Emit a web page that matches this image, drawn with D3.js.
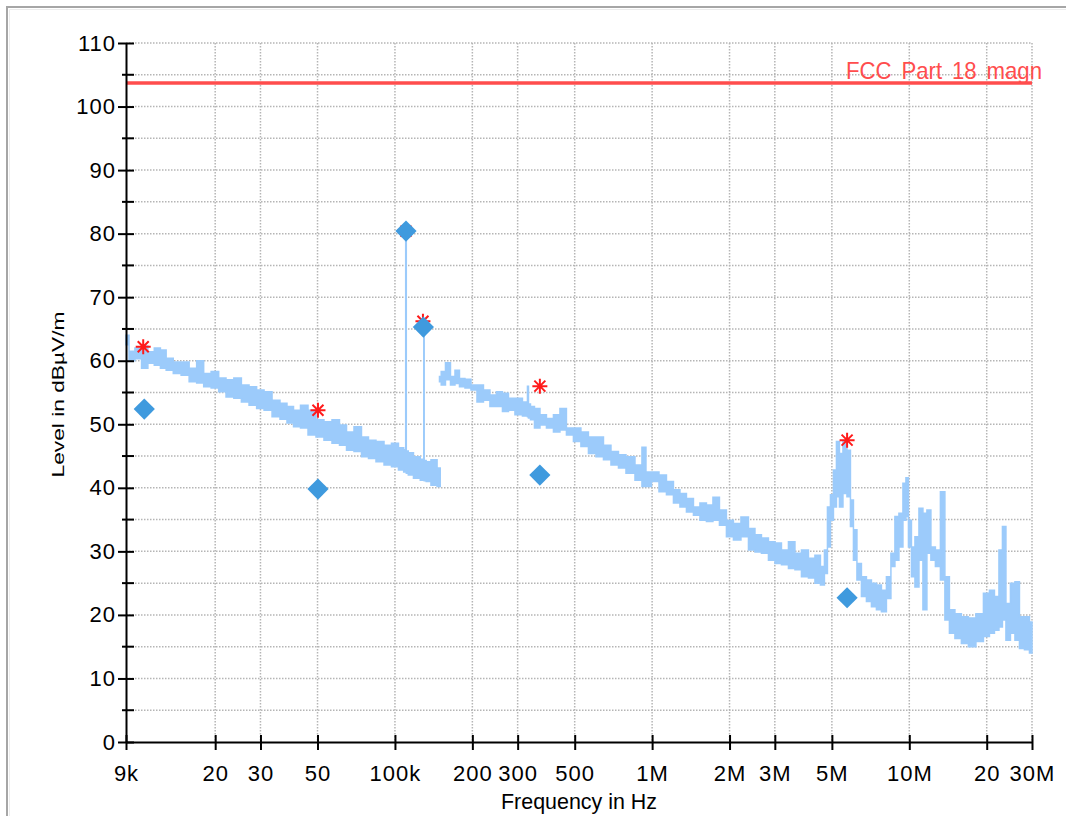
<!DOCTYPE html>
<html>
<head>
<meta charset="utf-8">
<title>EMI scan</title>
<script src="https://d3js.org/d3.v7.min.js"></script>
<style>
  body { margin: 0; background: #fff; }
</style>
</head>
<body>
<div id="chart"></div>
<script>
// axis ticks
var xTicks = [9e3, 20e3, 30e3, 50e3, 100e3, 200e3, 300e3, 500e3, 1e6, 2e6, 3e6, 5e6, 10e6, 20e6, 30e6];
var xTickLabels = ["9k", "20", "30", "50", "100k", "200", "300", "500", "1M", "2M", "3M", "5M", "10M", "20", "30M"];
var yTicks = [0, 10, 20, 30, 40, 50, 60, 70, 80, 90, 100, 110];

// limit line
var limitName = "FCC Part 18 magn";
var limitLevel = 103.7;

// scan trace, 9 kHz - 150 kHz (frequency in Hz, max / min of the band in dBuV/m)
var trace1Freq = [9000, 9500, 10000, 10700, 11200, 12000, 12500, 13300, 14200, 15300, 16400, 17500, 18600, 20000,
  21300, 22800, 24500, 26100, 28100, 29900, 32100, 34500, 37000, 39100, 41600, 44300, 47600, 51100, 54900, 59000,
  62800, 66900, 71800, 76500, 81400, 87500, 94000, 100000, 106500, 109800, 110400, 111000, 114400, 121800, 129200,
  129700, 130200, 134400, 141800, 150000];
var trace1Hi = [64.0, 61.5, 62.0, 62.3, 61.4, 62.0, 61.7, 60.4, 59.8, 59.8, 58.8, 60.0, 58.0, 58.3,
  57.3, 57.0, 57.3, 56.2, 55.9, 55.4, 55.1, 53.8, 53.3, 52.8, 52.2, 53.0, 52.2, 50.7, 50.4, 50.7,
  49.9, 48.8, 49.6, 48.0, 47.5, 47.3, 46.7, 47.0, 46.3, 46.0, 80.4, 45.8, 45.5, 44.9, 44.5,
  65.3, 44.3, 44.1, 44.4, 43.1];
var trace1Lo = [62.5, 60.0, 60.3, 58.8, 59.6, 59.3, 58.8, 58.5, 58.0, 57.7, 56.7, 56.5, 55.9, 55.7,
  55.1, 54.3, 54.1, 53.5, 53.0, 52.5, 52.2, 51.2, 50.8, 50.2, 49.6, 49.4, 48.3, 48.0, 47.5, 47.0,
  46.7, 45.9, 45.7, 44.9, 44.6, 44.1, 43.6, 43.3, 42.8, 42.5, 42.5, 42.3, 42.0, 41.5, 41.2,
  41.2, 41.1, 41.0, 40.4, 40.2];

// scan trace, 150 kHz - 30 MHz
var trace2Freq = [149000, 153700, 160800, 168100, 174300, 182200, 192300, 202900, 214100, 227900, 240400, 256000,
  267800, 285100, 300800, 326000, 329100, 332000, 341000, 356700, 376300, 400600, 426500, 450000, 479100, 510000,
  547900, 583500, 627000, 667400, 717100, 763400, 820200, 896800, 929500, 963400, 1026000, 1102000, 1173000,
  1249000, 1318000, 1403000, 1494000, 1576000, 1678000, 1771000, 1885000, 2007000, 2137000, 2296000, 2445000,
  2579000, 2746000, 2924000, 3085000, 3285000, 3497000, 3690000, 3929000, 4183000, 4413000, 4615000, 4741000,
  4870000, 5003000, 5139000, 5279000, 5423000, 5621000, 5825000, 5984000, 6147000, 6370000, 6662000, 6967000,
  7286000, 7619000, 7968000, 8332000, 8636000, 8951000, 9279000, 9617000, 9790000, 10060000, 10330000, 10710000,
  11100000, 11500000, 11920000, 12350000, 12920000, 13510000, 14000000, 14650000, 15450000, 16450000, 17520000,
  18820000, 20040000, 20960000, 21920000, 22720000, 23330000, 24190000, 25290000, 26220000, 27420000, 28670000,
  30000000];
var trace2Hi = [57.5, 58.3, 59.7, 57.5, 58.5, 57.2, 57.1, 56.2, 56.2, 55.4, 54.6, 55.1,
  54.9, 54.1, 54.1, 53.5, 56.0, 53.2, 52.8, 52.5, 51.5, 50.9, 51.5, 52.5, 49.4, 49.4,
  48.8, 48.0, 48.0, 46.7, 45.7, 45.2, 44.9, 43.6, 46.4, 42.5, 42.5, 42.0, 41.0,
  39.7, 39.1, 38.3, 37.0, 37.6, 37.3, 38.5, 36.5, 34.9, 34.4, 35.4, 33.6,
  32.6, 32.1, 31.5, 31.3, 30.2, 31.5, 29.7, 30.2, 28.9, 29.4, 27.6, 30.2,
  37.0, 38.9, 42.8, 47.3, 45.4, 47.4, 45.9, 38.1, 33.4, 28.1, 26.0, 25.5,
  25.0, 24.7, 23.9, 26.0, 29.7, 35.5, 36.0, 40.7, 41.6, 34.9, 30.7, 32.3,
  36.8, 36.0, 36.5, 30.7, 30.2, 39.4, 26.0, 20.8, 20.2, 19.7, 19.5,
  20.2, 23.4, 23.9, 22.9, 30.2, 33.9, 21.8, 25.0, 25.2, 19.7, 19.7,
  18.9];
var trace2Lo = [56.7, 56.2, 57.0, 56.2, 56.4, 55.9, 55.7, 55.4, 53.5, 53.8, 52.8, 52.8,
  52.0, 52.2, 51.5, 51.3, 51.2, 51.0, 50.7, 49.4, 49.9, 49.4, 48.8, 49.1, 48.3, 47.3,
  46.5, 45.4, 44.9, 44.4, 43.6, 43.1, 42.3, 41.2, 40.2, 40.2, 41.0, 39.4, 38.9,
  37.6, 37.0, 36.2, 35.7, 34.9, 34.7, 34.9, 34.1, 32.3, 31.8, 32.3, 30.2,
  29.9, 29.7, 28.6, 28.1, 27.9, 27.3, 27.1, 26.0, 25.8, 25.0, 24.7, 26.5,
  30.7, 34.9, 37.0, 38.6, 37.0, 39.1, 38.6, 33.9, 28.6, 25.5, 22.9, 22.1,
  21.3, 20.8, 20.5, 22.6, 27.6, 28.6, 30.7, 34.9, 35.5, 30.7, 26.0, 24.4,
  28.6, 20.8, 29.7, 28.6, 27.6, 25.5, 19.2, 17.1, 16.3, 15.5, 15.0,
  15.8, 16.6, 17.1, 17.6, 18.1, 19.2, 16.0, 17.1, 16.0, 14.7, 14.5,
  14.0];

// peak (red stars) and final (blue diamonds) measurements
var peakFreq = [10500, 50200, 110400, 128500, 366000, 5730000];
var peakLevel = [62.2, 52.2, 80.4, 66.2, 56.0, 47.5];
var finalFreq = [10600, 50200, 110400, 129000, 366000, 5730000];
var finalLevel = [52.4, 39.8, 80.4, 65.3, 42.0, 22.7];

var tickFont = "'Liberation Sans Narrow', 'Arial Narrow', 'Liberation Sans', Arial, sans-serif";

// set the dimensions and margins of the graph
var margin = {top: 43, right: 34, bottom: 74, left: 126},
    width = 1066 - margin.left - margin.right,
    height = 816 - margin.top - margin.bottom;

var svg = d3.select("#chart")
  .append("svg")
    .attr("width", 1066)
    .attr("height", 816);

// window frame
svg.append("path").attr("d", "M7,816V7H1066")
  .attr("fill", "none").attr("stroke", "#a6a6a6").attr("stroke-width", 2);
svg.append("path").attr("d", "M9.5,816V9.5H1066")
  .attr("fill", "none").attr("stroke", "#ececec").attr("stroke-width", 1);

var g = svg.append("g")
  .attr("transform", "translate(" + margin.left + "," + margin.top + ")");

var x = d3.scaleLog().domain([9e3, 30e6]).range([0, width]);
var y = d3.scaleLinear().domain([0, 110]).range([height, 0]);

// dotted grid
var grid = g.append("g")
  .attr("stroke", "#b5b5b5").attr("stroke-width", 1.5).attr("stroke-dasharray", "1.5,1.5");
grid.selectAll(".gy").data(d3.range(5, 111, 5)).join("line")
  .attr("x1", 0).attr("x2", width)
  .attr("y1", d => y(d)).attr("y2", d => y(d));
grid.selectAll(".gx").data(xTicks.slice(1)).join("line")
  .attr("y1", 0).attr("y2", height)
  .attr("x1", d => x(d)).attr("x2", d => x(d));

// limit line
g.append("line")
  .attr("x1", x(9e3)).attr("x2", x(30e6))
  .attr("y1", y(limitLevel)).attr("y2", y(limitLevel))
  .attr("stroke", "#ff4d4d").attr("stroke-width", 3.5);
g.append("text")
  .attr("x", x(30e6) + 10).attr("y", y(limitLevel) - 4)
  .attr("text-anchor", "end")
  .attr("fill", "#ff4d4d")
  .attr("textLength", 196).attr("lengthAdjust", "spacingAndGlyphs")
  .style("font-family", tickFont).style("font-size", "24px")
  .style("word-spacing", "4px")
  .text(limitName);

// the scan trace
var area = d3.area()
  .curve(d3.curveStep)
  .x(d => x(d.f))
  .y0(d => y(d.lo))
  .y1(d => y(d.hi));
[[trace1Freq, trace1Hi, trace1Lo], [trace2Freq, trace2Hi, trace2Lo]].forEach(function(s) {
  var data = s[0].map((f, i) => ({f: f, hi: s[1][i], lo: s[2][i]}));
  g.append("path")
    .datum(data)
    .attr("fill", "#9ccbfb")
    .attr("stroke", "#9ccbfb")
    .attr("stroke-width", 1.5)
    .attr("d", area);
});

// peaks
g.selectAll(".peak").data(peakFreq).join("path")
  .attr("transform", (d, i) => "translate(" + x(d) + "," + y(peakLevel[i]) + ")")
  .attr("d", "M-7.5,0H7.5M0,-7.5V7.5M-5.5,-5.5L5.5,5.5M-5.5,5.5L5.5,-5.5")
  .attr("fill", "none").attr("stroke", "#ff1a1a").attr("stroke-width", 2);

// final measurements
g.selectAll(".final").data(finalFreq).join("path")
  .attr("transform", (d, i) => "translate(" + x(d) + "," + y(finalLevel[i]) + ") rotate(45)")
  .attr("d", d3.symbol(d3.symbolSquare, 225))
  .attr("fill", "#3f9ade");

// Y axis
var yAxis = g.append("g")
  .call(d3.axisLeft(y).tickValues(yTicks).tickSizeInner(8).tickSizeOuter(0).tickPadding(2));
g.append("g").selectAll("line").data(d3.range(5, 110, 10)).join("line")
  .attr("x1", -4).attr("x2", 8)
  .attr("y1", d => y(d)).attr("y2", d => y(d))
  .attr("stroke", "#000").attr("stroke-width", 2);

// X axis
var xAxis = g.append("g")
  .attr("transform", "translate(0," + height + ")")
  .call(d3.axisBottom(x).tickValues(xTicks).tickFormat((d, i) => xTickLabels[i])
    .tickSizeInner(8).tickSizeOuter(0).tickPadding(15));

yAxis.selectAll(".tick line").attr("x1", 8);
xAxis.selectAll(".tick line").attr("y1", -7);
[xAxis, yAxis].forEach(function(a) {
  a.select(".domain").attr("stroke", "#000").attr("stroke-width", 2);
  a.selectAll(".tick line").attr("stroke", "#000").attr("stroke-width", 2);
  a.selectAll("text")
    .attr("fill", "#000")
    .style("font-family", tickFont)
    .style("font-size", "22px")
    .style("letter-spacing", "1px");
});

// axis titles
svg.append("text")
  .attr("x", margin.left + width / 2).attr("y", 809)
  .attr("text-anchor", "middle")
  .attr("textLength", 156).attr("lengthAdjust", "spacingAndGlyphs")
  .style("font-family", tickFont).style("font-size", "22px")
  .text("Frequency in Hz");
svg.append("text")
  .attr("transform", "translate(64," + (margin.top + height / 2 + 2) + ") rotate(-90)")
  .attr("text-anchor", "middle")
  .attr("textLength", 166).attr("lengthAdjust", "spacingAndGlyphs")
  .style("font-family", "'Liberation Sans', Arial, sans-serif").style("font-size", "17px")
  .text("Level in dBµV/m");
</script>
</body>
</html>
